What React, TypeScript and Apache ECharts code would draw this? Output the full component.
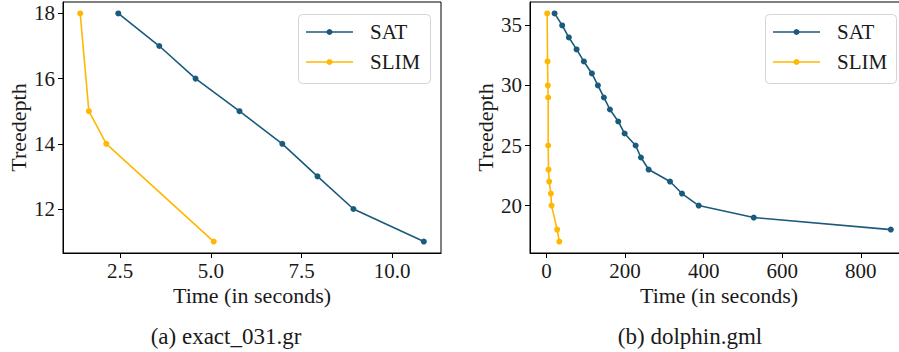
import React, { useEffect, useRef } from "react";
import * as echarts from "echarts";

// (a) exact_031.gr
const exactSatTime = [2.45, 3.58, 4.58, 5.79, 6.97, 7.94, 8.93, 10.87];
const exactSatDepth = [18, 17, 16, 15, 14, 13, 12, 11];
const exactSlimTime = [1.4, 1.64, 2.12, 5.08];
const exactSlimDepth = [18, 15, 14, 11];
const exactXTicks = [2.5, 5.0, 7.5, 10.0];
const exactYTicks = [12, 14, 16, 18];

// (b) dolphin.gml
const dolphinSatTime = [20.4, 39.8, 56.8, 76.4, 95, 115.4, 130.7, 146, 161.3, 182.5, 198.7, 226.7, 240.3, 259.9, 314.3, 344.8, 387.3, 527.4, 876.4];
const dolphinSatDepth = [36, 35, 34, 33, 32, 31, 30, 29, 28, 27, 26, 25, 24, 23, 22, 21, 20, 19, 18];
const dolphinSlimTime = [1.6, 2.5, 3.3, 4.2, 4.2, 5.0, 6.7, 11.0, 12.7, 27.0, 32.5];
const dolphinSlimDepth = [36, 32, 30, 29, 25, 23, 22, 21, 20, 18, 17];
const dolphinXTicks = [0, 200, 400, 600, 800];
const dolphinYTicks = [20, 25, 30, 35];

const seriesNames = ["SAT", "SLIM"];
const captions = ["(a) exact_031.gr", "(b) dolphin.gml"];
const xTitle = "Time (in seconds)";
const yTitle = "Treedepth";

const SAT_COLOR = "#1a5a7c";
const SLIM_COLOR = "#ffb703";
const SERIES_COLORS = [SAT_COLOR, SLIM_COLOR];
const FONT = "Liberation Serif";
const TEXT = "#1a1a1a";

function pairs(xs: number[], ys: number[]) {
  return xs.map((x, i) => [x, ys[i]]);
}

function padRange(vals: number[]) {
  const mn = Math.min(...vals);
  const mx = Math.max(...vals);
  const p = (mx - mn) * 0.05;
  return [mn - p, mx + p];
}

export default function App() {
  const ref = useRef<HTMLDivElement>(null);
  useEffect(() => {
    if (!ref.current) return;
    const chart = echarts.init(ref.current, null, { renderer: "svg" });

    const grids = [
      { left: 63, top: 2, width: 378, height: 251 },
      { left: 530, top: 2, width: 378, height: 251 },
    ];

    const xr0 = padRange([...exactSatTime, ...exactSlimTime]);
    const yr0 = padRange([...exactSatDepth, ...exactSlimDepth]);
    const xr1 = padRange([...dolphinSatTime, ...dolphinSlimTime]);
    const yr1 = padRange([...dolphinSatDepth, ...dolphinSlimDepth]);

    const mkX = (idx: number, r: number[], ticks: number[], fmt: (v: number) => string) => ({
      type: "value",
      gridIndex: idx,
      min: r[0],
      max: r[1],
      axisLine: { show: true, onZero: false, lineStyle: { color: "#000", width: 1 } },
      axisTick: { show: true, customValues: ticks, length: 5, lineStyle: { color: "#000", width: 1 } },
      axisLabel: {
        show: true,
        customValues: ticks,
        formatter: fmt,
        margin: 7,
        fontSize: 21,
        fontFamily: FONT,
        color: TEXT,
      },
      splitLine: { show: false },
    });
    const mkY = (idx: number, r: number[], ticks: number[]) => ({
      type: "value",
      gridIndex: idx,
      min: r[0],
      max: r[1],
      axisLine: { show: true, onZero: false, lineStyle: { color: "#000", width: 1 } },
      axisTick: { show: true, customValues: ticks, length: 5, lineStyle: { color: "#000", width: 1 } },
      axisLabel: {
        show: true,
        customValues: ticks,
        formatter: (v: number) => String(v),
        margin: 8,
        fontSize: 21,
        fontFamily: FONT,
        color: TEXT,
      },
      splitLine: { show: false },
    });

    const mkSeries = (name: string, color: string, idx: number, data: number[][]) => ({
      type: "line",
      name,
      xAxisIndex: idx,
      yAxisIndex: idx,
      data,
      symbol: "circle",
      symbolSize: 6,
      showSymbol: true,
      lineStyle: { color, width: 1.6 },
      itemStyle: { color },
      emphasis: { disabled: true },
    });

    const texts: any[] = [];
    grids.forEach((g, i) => {
      texts.push({
        type: "text",
        x: g.left + g.width / 2,
        y: 295,
        style: { text: xTitle, fontSize: 22, fontFamily: FONT, fill: TEXT, align: "center", verticalAlign: "middle" },
      });
      texts.push({
        type: "text",
        x: i === 0 ? 18.5 : 485,
        y: 127.5,
        rotation: Math.PI / 2,
        style: { text: yTitle, fontSize: 22, fontFamily: FONT, fill: TEXT, align: "center", verticalAlign: "middle" },
      });
    });
    const capX = [226, 690];
    captions.forEach((c, i) => {
      texts.push({
        type: "text",
        x: capX[i],
        y: 336,
        style: { text: c, fontSize: 23, fontFamily: FONT, fill: TEXT, align: "center", verticalAlign: "middle" },
      });
    });

    // legend boxes (one per panel)
    const legendLeft = [298, 765];
    const legendW = [132, 131];
    legendLeft.forEach((ox, li) => {
      texts.push({
        type: "rect",
        z: 10,
        shape: { x: ox + 0.5, y: 14.5, width: legendW[li], height: 69, r: 4 },
        style: { fill: "rgba(255,255,255,0.8)", stroke: "#d4d4d4", lineWidth: 1 },
      });
      seriesNames.forEach((name, si) => {
        const cy = 32 + si * 30;
        texts.push({
          type: "line",
          z: 11,
          shape: { x1: ox + 8, y1: cy, x2: ox + 55, y2: cy },
          style: { stroke: SERIES_COLORS[si], lineWidth: 1.6 },
        });
        texts.push({
          type: "circle",
          z: 12,
          shape: { cx: ox + 31.5, cy, r: 3 },
          style: { fill: SERIES_COLORS[si] },
        });
        texts.push({
          type: "text",
          z: 12,
          x: ox + 72,
          y: cy,
          style: { text: name, fontSize: 21, fontFamily: FONT, fill: TEXT, align: "left", verticalAlign: "middle" },
        });
      });
    });

    chart.setOption({
      animation: false,
      backgroundColor: "#fff",
      textStyle: { fontFamily: FONT },
      grid: grids.map((g) => ({
        ...g,
        show: true,
        borderColor: "#000",
        borderWidth: 1,
        backgroundColor: "transparent",
        containLabel: false,
        outerBoundsMode: "none",
      })),
      xAxis: [
        mkX(0, xr0, exactXTicks, (v: number) => v.toFixed(1)),
        mkX(1, xr1, dolphinXTicks, (v: number) => String(Math.round(v))),
      ],
      yAxis: [mkY(0, yr0, exactYTicks), mkY(1, yr1, dolphinYTicks)],
      series: [
        mkSeries(seriesNames[0], SAT_COLOR, 0, pairs(exactSatTime, exactSatDepth)),
        mkSeries(seriesNames[1], SLIM_COLOR, 0, pairs(exactSlimTime, exactSlimDepth)),
        mkSeries(seriesNames[0], SAT_COLOR, 1, pairs(dolphinSatTime, dolphinSatDepth)),
        mkSeries(seriesNames[1], SLIM_COLOR, 1, pairs(dolphinSlimTime, dolphinSlimDepth)),
      ],
      graphic: texts,
    });

    return () => chart.dispose();
  }, []);

  return (
    <div
      ref={ref}
      style={{ position: "fixed", left: 0, top: 0, width: 899, height: 352, background: "#fff" }}
    />
  );
}
